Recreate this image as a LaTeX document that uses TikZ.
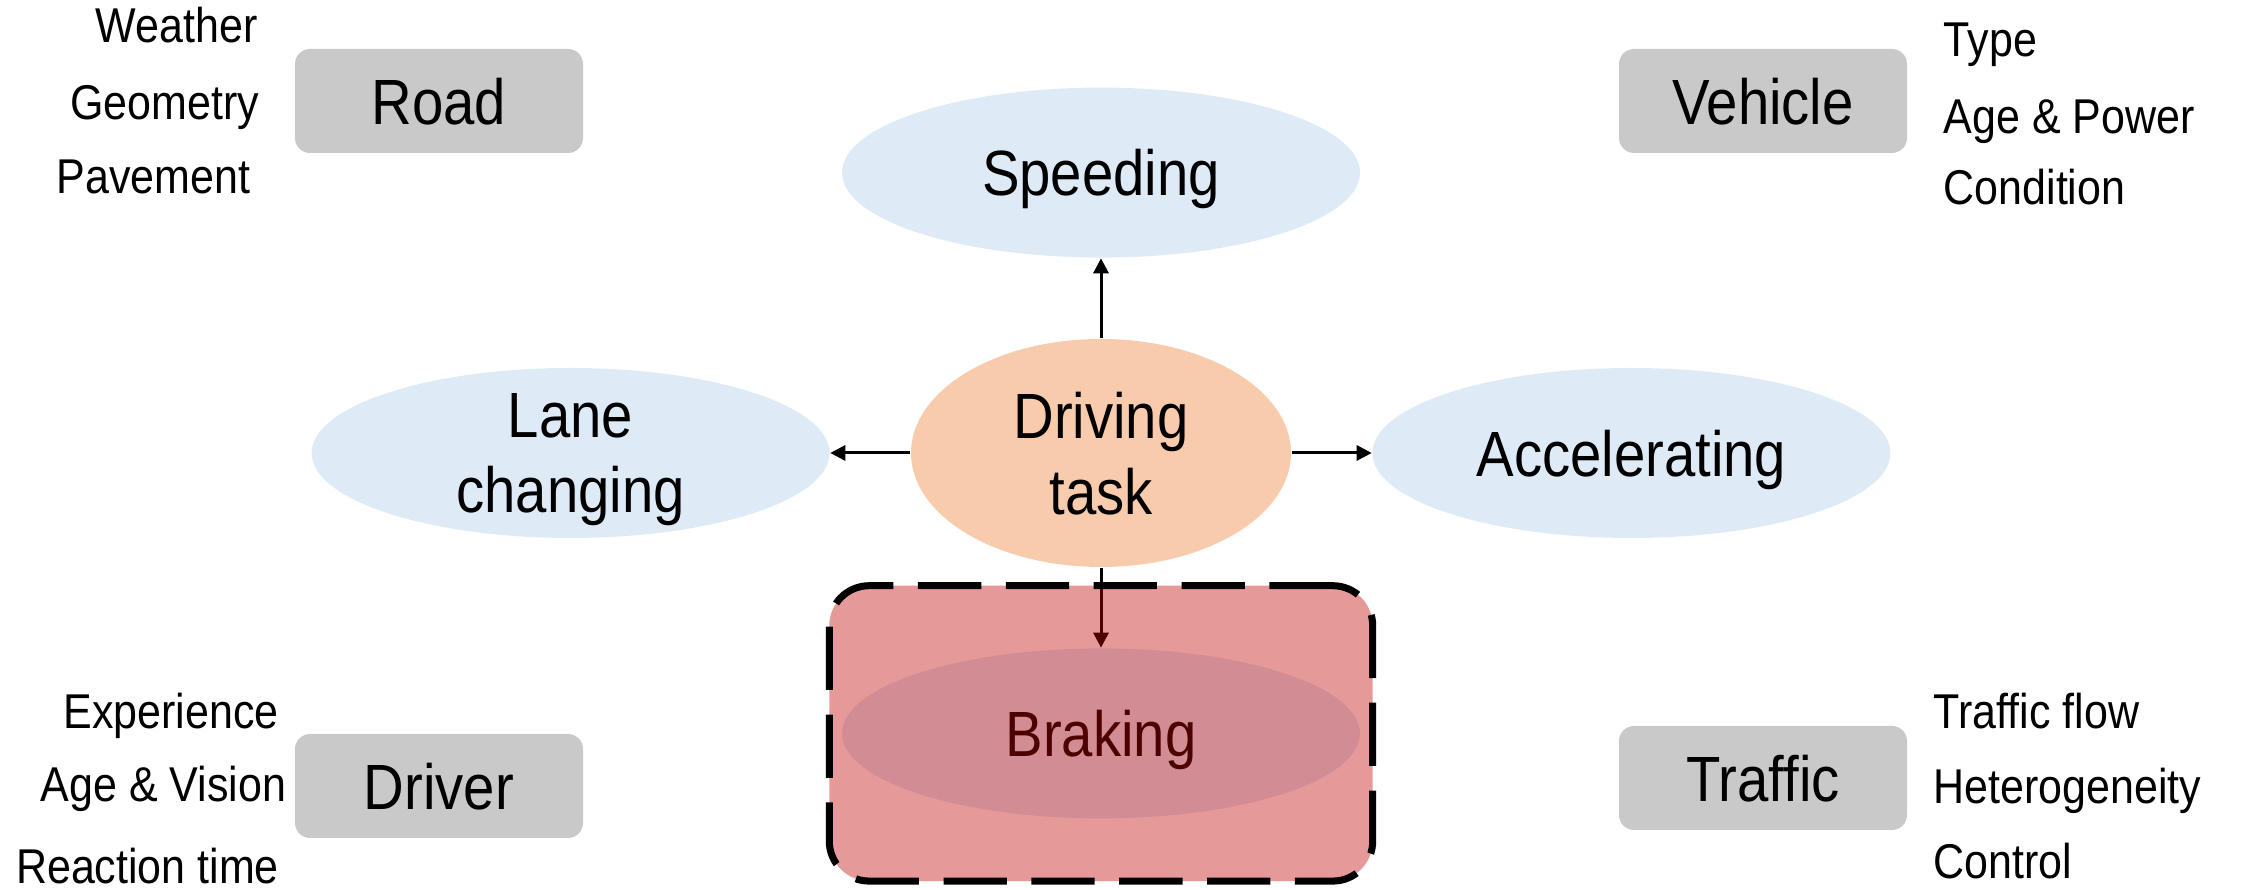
\documentclass[tikz,border=0pt]{standalone}
\usepackage{fontspec}
\setmainfont{Liberation Sans}[FakeStretch=0.88]
\usetikzlibrary{arrows.meta, positioning, fit, shapes.geometric}
\definecolor{manblue}{HTML}{DEEBF7}
\definecolor{taskorange}{HTML}{F8CBAD}
\definecolor{factorgray}{HTML}{C9C9C9}
\definecolor{brakered}{HTML}{C00000}

\begin{document}
\begin{tikzpicture}[
  node distance=8mm and 8mm,
  bigtext/.style={font=\fontsize{18.2}{21.6}\selectfont},
  manoeuvre/.style={ellipse, fill=manblue, inner sep=0pt, minimum width=51.8mm,
    minimum height=17mm, align=center, text depth=0pt, bigtext},
  task/.style={manoeuvre, fill=taskorange, minimum width=38mm, minimum height=22.8mm},
  factor/.style={rectangle, rounded corners=1.5mm, fill=factorgray, minimum width=28.8mm,
    minimum height=10.4mm, text depth=0pt, bigtext},
  attr/.style={anchor=base, inner sep=0pt, font=\fontsize{13.9}{16}\selectfont},
  attrr/.style={attr, anchor=base west},
  arrow/.style={-{Triangle[length=1.5mm, width=1.5mm]}, line width=0.85pt},
  focus/.style={rounded corners=4mm, fill=brakered, fill opacity=0.4, draw=black,
    line width=2pt, dash pattern=on 18pt off 7pt}
]
\useasboundingbox (0,0) rectangle (22.42,8.90);

\node[task] (task) at (11.01, 4.37) {Driving\\task};
\node[manoeuvre, above=of task] (speed) {Speeding};
\node[manoeuvre, left=of task] (lane) {Lane\\changing};
\node[manoeuvre, right=of task] (accel) {Accelerating};
\node[manoeuvre, below=of task] (brake) {Braking};

\node[factor] (road) at (4.39, 7.89) {Road};
\node[factor] (vehicle) at (17.63, 7.89) {Vehicle};
\node[factor] (driver) at (4.39, 1.04) {Driver};
\node[factor] (traffic) at (17.63, 1.12) {Traffic};

\node[attr] (weather) at (1.765, 8.47) {Weather};
\node[attr] (geometry) at (1.645, 7.70) {Geometry};
\node[attr] (pavement) at (1.535, 6.96) {Pavement};
\node[attr] (experience) at (1.71, 1.61) {Experience};
\node[attr] (agevision) at (1.635, 0.88) {Age \& Vision};
\node[attr] (reaction) at (1.475, 0.06) {Reaction time};
\node[attrr] (type) at (19.43, 8.33) {Type};
\node[attrr] (agepower) at (19.43, 7.56) {Age \& Power};
\node[attrr] (condition) at (19.43, 6.85) {Condition};
\node[attrr] (flow) at (19.33, 1.61) {Traffic flow};
\node[attrr] (hetero) at (19.33, 0.86) {Heterogeneity};
\node[attrr] (control) at (19.33, 0.11) {Control};

\draw[arrow] (task) -- (speed);
\draw[arrow] (task) -- (lane);
\draw[arrow] (task) -- (accel);
\draw[arrow] (task) -- (brake);

% highlighted manoeuvre
\node[focus, fit=(brake), inner xsep=1.2mm, inner ysep=6.2mm] (focusbox) {};
\end{tikzpicture}
\end{document}
